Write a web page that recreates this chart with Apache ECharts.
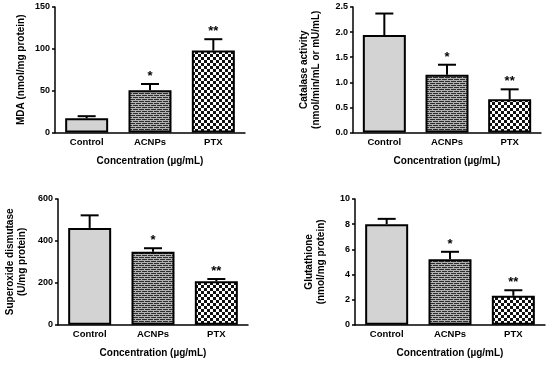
<!DOCTYPE html>
<html>
<head>
<meta charset="utf-8">
<script src="https://cdn.jsdelivr.net/npm/echarts@6/dist/echarts.min.js"></script>
<style>html,body{margin:0;padding:0;background:#fff;}#c{width:550px;height:366px;}</style>
</head>
<body>
<div id="c"></div>
<script>
var categories = ['Control', 'ACNPs', 'PTX'];
var sigLabels = ['', '*', '**'];

var mdaMean = [17, 50.5, 98];
var mdaErr = [2.5, 7.5, 13.5];

var catalaseMean = [1.94, 1.15, 0.66];
var catalaseErr = [0.43, 0.2, 0.2];

var sodMean = [462, 348, 207];
var sodErr = [60, 17, 11];

var gshMean = [8.0, 5.2, 2.3];
var gshErr = [0.42, 0.6, 0.44];

var xTitle = 'Concentration (\u00b5g/mL)';
var FONT = '"Liberation Sans", Arial, sans-serif';

function makePattern(kind) {
  var c = document.createElement('canvas');
  var ctx = c.getContext('2d');
  if (kind === 'brick') {
    c.width = 6; c.height = 4;
    ctx.fillStyle = '#2e2e2e'; ctx.fillRect(0, 0, 6, 4);
    ctx.fillStyle = '#b0b0b0';
    ctx.fillRect(0, 0, 6, 1);
    ctx.fillRect(0, 1, 1, 1);
    ctx.fillRect(0, 2, 6, 1);
    ctx.fillRect(3, 3, 1, 1);
  } else {
    c.width = 6; c.height = 6;
    ctx.fillStyle = '#ffffff'; ctx.fillRect(0, 0, 6, 6);
    ctx.fillStyle = '#111111';
    ctx.fillRect(0, 0, 3, 3);
    ctx.fillRect(3, 3, 3, 3);
  }
  return { image: c, repeat: 'repeat' };
}
var fills = ['#d3d3d3', makePattern('brick'), makePattern('check')];

var panels = [
  { mean: mdaMean, err: mdaErr, name: 'MDA (nmol/mg protein)', max: 150, interval: 50, dec: 0,
    grid: { left: 55, top: 7, width: 190, height: 125.5 }, nameGap: 28 },
  { mean: catalaseMean, err: catalaseErr, name: 'Catalase activity\n(nmol/min/mL or mU/mL)', max: 2.5, interval: 0.5, dec: 1,
    grid: { left: 353, top: 7, width: 188, height: 125.5 }, nameGap: 31 },
  { mean: sodMean, err: sodErr, name: 'Superoxide dismutase\n(U/mg protein)', max: 600, interval: 200, dec: 0,
    grid: { left: 58, top: 199, width: 190, height: 125.7 }, nameGap: 30 },
  { mean: gshMean, err: gshErr, name: 'Glutathione\n(nmol/mg protein)', max: 10, interval: 2, dec: 0,
    grid: { left: 355, top: 199, width: 190, height: 125.7 }, nameGap: 28 }
];

var option = { animation: false, backgroundColor: '#fff', grid: [], xAxis: [], yAxis: [], series: [] };

panels.forEach(function (p, i) {
  option.grid.push(p.grid);
  option.xAxis.push({
    type: 'category', gridIndex: i, data: categories, boundaryGap: true,
    axisLine: { lineStyle: { color: '#000', width: 1.5 } },
    axisTick: { alignWithLabel: true, length: 3, lineStyle: { color: '#000', width: 1.5 } },
    axisLabel: { color: '#000', fontFamily: FONT, fontWeight: 'bold', fontSize: 9.5, margin: 5 },
    name: xTitle, nameLocation: 'middle', nameGap: 24,
    nameTextStyle: { color: '#000', fontFamily: FONT, fontWeight: 'bold', fontSize: 10 }
  });
  option.yAxis.push({
    type: 'value', gridIndex: i, min: 0, max: p.max, interval: p.interval,
    splitLine: { show: false },
    axisLine: { show: true, lineStyle: { color: '#000', width: 1.5 } },
    axisTick: { show: true, length: 3, lineStyle: { color: '#000', width: 1.5 } },
    axisLabel: { color: '#000', fontFamily: FONT, fontWeight: 'bold', fontSize: 9, margin: 5,
      formatter: (function (d) { return function (v) { return v.toFixed(d); }; })(p.dec) },
    name: p.name, nameLocation: 'middle', nameGap: p.nameGap, nameRotate: 90,
    nameTextStyle: { color: '#000', fontFamily: FONT, fontWeight: 'bold', fontSize: 10, lineHeight: 12 }
  });
  option.series.push({
    type: 'bar', xAxisIndex: i, yAxisIndex: i, barWidth: 43,
    data: p.mean.map(function (v, k) {
      return { value: v, itemStyle: { color: fills[k], borderColor: '#000', borderWidth: 2 } };
    })
  });
  option.series.push({
    type: 'custom', xAxisIndex: i, yAxisIndex: i, z: 5,
    data: p.mean.map(function (v, k) { return [k, v, v + p.err[k]]; }),
    renderItem: function (params, api) {
      var base = api.coord([api.value(0), api.value(1)]);
      var top = api.coord([api.value(0), api.value(2)]);
      var sig = sigLabels[params.dataIndex];
      var children = [
        { type: 'line', shape: { x1: base[0], y1: base[1], x2: top[0], y2: top[1] }, style: { stroke: '#000', lineWidth: 2 } },
        { type: 'line', shape: { x1: top[0] - 9, y1: top[1], x2: top[0] + 9, y2: top[1] }, style: { stroke: '#000', lineWidth: 2 } }
      ];
      if (sig) {
        children.push({ type: 'text', style: { text: sig, x: top[0], y: top[1] - 1, textAlign: 'center', textVerticalAlign: 'bottom',
          font: 'bold 13px ' + FONT, fill: '#000' } });
      }
      return { type: 'group', children: children };
    }
  });
});

var chart = echarts.init(document.getElementById('c'), null, { renderer: 'canvas' });
chart.setOption(option);
</script>
</body>
</html>
